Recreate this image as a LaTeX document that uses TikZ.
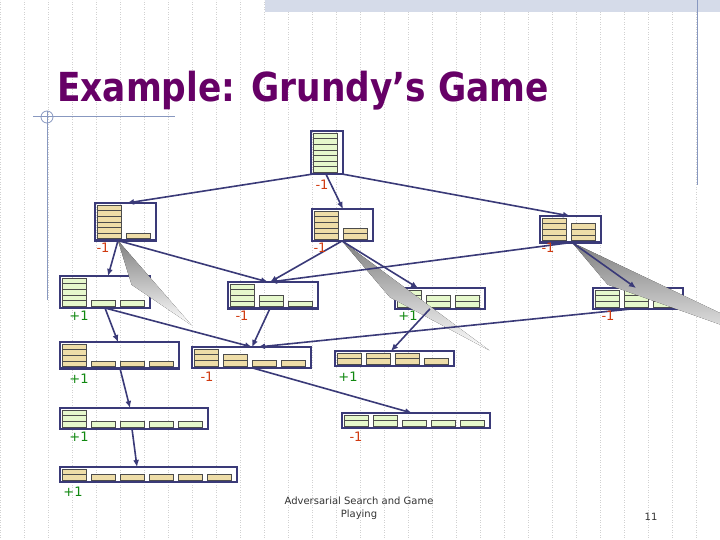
\documentclass[tikz,border=0pt]{standalone}
\usepackage{fontspec}
\setmainfont{DejaVu Sans}
\usetikzlibrary{calc,arrows.meta}
\definecolor{navy}{HTML}{3A3A78}
\definecolor{tgreen}{HTML}{E6F8CC}
\definecolor{ttan}{HTML}{EEDDA8}
\definecolor{shade}{HTML}{C8D0F4}
\definecolor{lred}{HTML}{D03A10}
\definecolor{lgreen}{HTML}{108810}
\definecolor{ttl}{HTML}{660066}
\definecolor{deco}{HTML}{8898C0}
\tikzset{
 box/.style={inner sep=0pt,outer sep=0pt,anchor=north west},
 boxline/.style={draw=navy,line width=2.4pt},
 tile/.style={draw=black!70,line width=0.5pt},
 edge/.style={draw=navy,line width=1.6pt,-{Latex[length=7pt,width=6pt]}},
 minuslbl/.style={text=lred,font=\fontsize{13}{13}\selectfont},
 pluslbl/.style={text=lgreen,font=\fontsize{13}{13}\selectfont},
}
% name, x, y, n, max, fill, list
\newcommand\pnode[7]{%
 \pgfmathsetmacro\bw{29*#4+3}\pgfmathsetmacro\bh{5.6*#5+4}%
 \node[box,minimum width=\bw pt,minimum height=\bh pt] (#1) at (#2,#3) {};
 \foreach \h [count=\i from 0] in {#7} {%
  \foreach \k in {1,...,\h} {%
   \draw[tile,fill=#6] ({#2+2+29*\i},{#3+\bh-2-5.6*\k}) rectangle ++(24,5.6);}}
 \draw[boxline] (#1.north west) rectangle (#1.south east);
}
\begin{document}
\begin{tikzpicture}[x=1pt,y=-1pt]
\useasboundingbox (0,0) rectangle (720,540);
\fill[white] (0,0) rectangle (720,540);
\draw[black!18,dotted,line width=0.5pt,step=24] (0,0) grid (720,540);
\fill[deco!35] (265,0) rectangle (720,12);
\draw[deco,line width=1pt] (697,0) -- (697,185);
\draw[deco,line width=1pt] (33,117) -- (175,117);
\draw[deco,line width=0.8pt] (47,117) circle (6);
\draw[deco,line width=1pt] (47,111) -- (47,300);
\node[anchor=base west,text=ttl,font=\bfseries\fontsize{40}{40}\selectfont,xscale=0.86,inner sep=0] (title) at (57,102) {Example: Grundy’s Game};

\pnode{R}{311}{131}{1}{7}{tgreen}{7}
\pnode{A}{95}{203}{2}{6}{ttan}{6,1}
\pnode{B}{312}{209}{2}{5}{ttan}{5,2}
\pnode{C}{540}{216}{2}{4}{ttan}{4,3}
\pnode{D}{60}{276}{3}{5}{tgreen}{5,1,1}
\pnode{E}{228}{282}{3}{4}{tgreen}{4,2,1}
\pnode{F}{395}{288}{3}{3}{tgreen}{3,2,2}
\pnode{G}{593}{288}{3}{3}{tgreen}{3,3,1}
\pnode{H}{60}{342}{4}{4}{ttan}{4,1,1,1}
\pnode{I}{192}{347}{4}{3}{ttan}{3,2,1,1}
\pnode{J}{335}{351}{4}{2}{ttan}{2,2,2,1}
\pnode{K}{60}{408}{5}{3}{tgreen}{3,1,1,1,1}
\pnode{L}{342}{413}{5}{2}{tgreen}{2,2,1,1,1}
\pnode{M}{60}{467}{6}{2}{ttan}{2,1,1,1,1,1}

% shading
\fill[shade] ($(A.south west)+(23,0)$) -- ($(A.south west)+(23,0)!0.3!($(E.north west)+(40,0)$)$) -- ($(A.south west)+(23,0)!0.16!($(D.north west)+(48,0)$)$) -- cycle;
\fill[shade] ($(B.south west)+(30,0)$) -- ($(B.south west)+(30,0)!0.38!($(F.north west)+(23,0)$)$) -- ($(B.south west)+(30,0)!0.2!($(E.north west)+(42,0)$)$) -- cycle;
\fill[shade] ($(C.south west)+(32,0)$) -- ($(C.south west)+(32,0)!0.4!($(G.north west)+(43,0)$)$) -- ($(C.south west)+(32,0)!0.15!($(E.north west)+(42,0)$)$) -- cycle;

\draw[edge] ($(R.south west)+(1,0)$) -- ($(A.north west)+(32,0)$);
\draw[edge] ($(R.south west)+(15,0)$) -- ($(B.north west)+(31,0)$);
\draw[edge] ($(R.south east)+(0,0)$) -- ($(C.north west)+(30,0)$);
\draw[edge] ($(A.south west)+(23,0)$) -- ($(D.north west)+(48,0)$);
\draw[edge] ($(A.south west)+(23,0)$) -- ($(E.north west)+(40,0)$);
\draw[edge] ($(B.south west)+(30,0)$) -- ($(E.north west)+(42,0)$);
\draw[edge] ($(B.south west)+(30,0)$) -- ($(F.north west)+(23,0)$);
\draw[edge] ($(C.south west)+(32,0)$) -- ($(E.north west)+(42,0)$);
\draw[edge] ($(C.south west)+(32,0)$) -- ($(G.north west)+(43,0)$);
\draw[edge] ($(D.south west)+(45,0)$) -- ($(H.north west)+(58,0)$);
\draw[edge] ($(D.south west)+(45,0)$) -- ($(I.north west)+(60,0)$);
\draw[edge] ($(E.south west)+(42,0)$) -- ($(I.north west)+(60,0)$);
\draw[edge] ($(F.south west)+(35,0)$) -- ($(J.north west)+(56,0)$);
\draw[edge] ($(G.south west)+(40,0)$) -- ($(I.north west)+(66,0)$);
\draw[edge] ($(H.south west)+(60,0)$) -- ($(K.north west)+(70,0)$);
\draw[edge] ($(I.south west)+(60,0)$) -- ($(L.north west)+(70,0)$);
\draw[edge] ($(K.south west)+(72,0)$) -- ($(M.north west)+(77,0)$);

\node[minuslbl] (lR) at (322,185) {-1};
\node[minuslbl] (lA) at (103,248) {-1};
\node[minuslbl] (lB) at (320,248) {-1};
\node[minuslbl] (lC) at (548,248) {-1};
\node[pluslbl] (lD) at (79,316) {+1};
\node[minuslbl] (lE) at (242,316) {-1};
\node[pluslbl] (lF) at (408,316) {+1};
\node[minuslbl] (lG) at (608,316) {-1};
\node[pluslbl] (lH) at (79,379) {+1};
\node[minuslbl] (lI) at (207,377) {-1};
\node[pluslbl] (lJ) at (348,377) {+1};
\node[pluslbl] (lK) at (79,437) {+1};
\node[minuslbl] (lL) at (356,437) {-1};
\node[pluslbl] (lM) at (73,492) {+1};

\node[text=black!80,font=\fontsize{10}{12.5}\selectfont,align=center] (foot) at (359,508) {Adversarial Search and Game\\Playing};
\node[text=black!80,font=\fontsize{10}{12}\selectfont] (pg) at (651,517) {11};
\end{tikzpicture}
\end{document}
